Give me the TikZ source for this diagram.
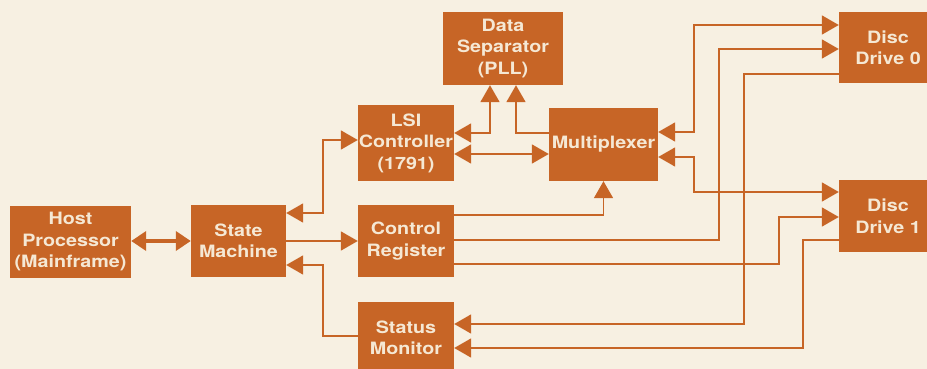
\documentclass[tikz,border=0pt]{standalone}
\usepackage{fontspec}
\newfontfamily\boxfont[FakeStretch=1.16]{TeX Gyre Heros}
\usetikzlibrary{arrows.meta}
\definecolor{paper}{RGB}{247,240,226}
\definecolor{rust}{RGB}{199,101,38}
\definecolor{boxtext}{RGB}{245,232,212}
\tikzset{
  block/.style={fill=rust, text=boxtext, font=\boxfont\bfseries\fontsize{17}{21.5}\selectfont,
    align=center, inner sep=0pt, minimum height=72pt},
  wire/.style={draw=rust, line width=1.8pt, >={Triangle[length=17pt,width=19pt]}},
  bus/.style={draw=rust, line width=4.5pt, >={Triangle[length=15pt,width=19pt]}},
}
\begin{document}
\begin{tikzpicture}[x=1pt,y=-1pt]
\useasboundingbox (0,0) rectangle (927,369);
\clip (0,0) rectangle (927,369);
\fill[paper] (0,0) rectangle (927,369);

% blocks
\node[block, minimum width=121pt] (host) at (70.5,242) {Host\\Processor\\(Mainframe)};
\node[block, minimum width=95pt] (state) at (238.5,241) {State\\Machine};
\node[block, minimum width=96pt, minimum height=76pt] (lsi) at (406,143) {LSI\\Controller\\(1791)};
\node[block, minimum width=96pt] (ctrl) at (406,241) {Control\\Register};
\node[block, minimum width=96pt] (status) at (406,338) {Status\\Monitor};
\node[block, minimum width=120pt, minimum height=73pt] (sep) at (503,48.5) {Data\\Separator\\(PLL)};
\node[block, minimum width=109pt, minimum height=73pt] (mux) at (603.5,144.5) {Multiplexer};
\node[block, minimum width=98pt, minimum height=71pt] (dd0) at (888,47.5) {Disc\\Drive 0};
\node[block, minimum width=98pt] (dd1) at (888,216) {Disc\\Drive 1};

% host link
\draw[bus,<->] (host.east |- state.west) -- (state.west);

% state machine links
\draw[wire,<->] ([yshift=28pt]state.east) -- ++(37,0) |- ([yshift=3pt]lsi.west);
\draw[wire,->] (state.east) -- (ctrl.west);
\draw[wire,->] ([yshift=2pt]status.west) -- ++(-35,0) |- ([yshift=-24pt]state.east);

% controller, separator and multiplexer
\draw[wire,<->] ([yshift=-11pt]lsi.east) -- ([yshift=-11pt]lsi.east -| mux.west);
\draw[wire,<->] ([yshift=10pt]lsi.east) -| ([xshift=-13pt]sep.south);
\draw[wire,->] ([yshift=11.5pt]mux.west) -| ([xshift=13pt]sep.south);
\draw[wire,->] ([yshift=26pt]ctrl.east) -| (mux.south);

% drive lines
\draw[wire,<->] ([yshift=12.5pt]mux.east) -- ++(36,0) |- ([yshift=22.5pt]dd0.west);
\draw[wire,<->] ([yshift=-12.5pt]mux.east) -- ++(36,0) |- ([yshift=24pt]dd1.west);
\draw[wire,->] ([yshift=1pt]ctrl.east) -- ++(265,0) |- ([yshift=-1.5pt]dd0.west);
\draw[wire,->] ([yshift=-23pt]ctrl.east) -- ++(325,0) |- ([yshift=-1pt]dd1.west);
\draw[wire,->] ([yshift=-26.5pt]dd0.west) -- ++(-95,0) |- ([yshift=14pt]status.east);
\draw[wire,->] ([yshift=-24pt]dd1.west) -- ++(-36,0) |- ([yshift=-10pt]status.east);
\end{tikzpicture}
\end{document}
